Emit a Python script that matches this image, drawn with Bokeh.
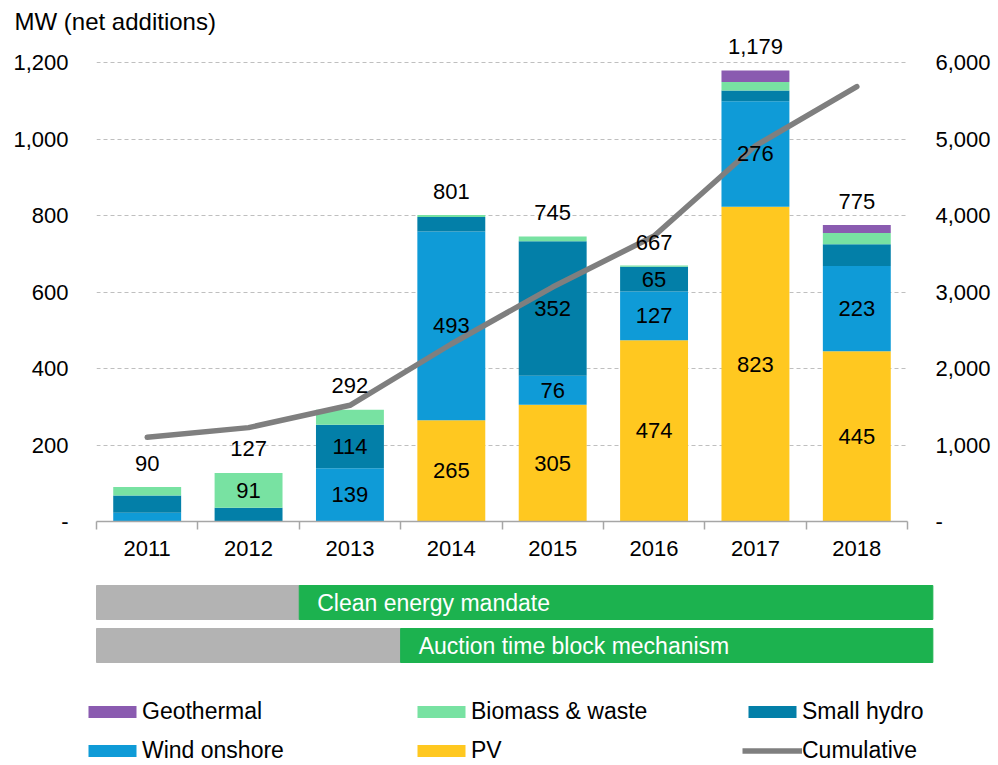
from bokeh.plotting import figure
from bokeh.models import (ColumnDataSource, Range1d, LinearAxis, FixedTicker, Legend,
                          LegendItem, NumeralTickFormatter)
from bokeh.layouts import column
from bokeh.embed import file_html
from bokeh.resources import INLINE
from bokeh.core.properties import value

# ---------------- data ----------------
years = [2011, 2012, 2013, 2014, 2015, 2016, 2017, 2018]
pv = [0, 0, 0, 265, 305, 474, 823, 445]
wind_onshore = [23, 0, 139, 493, 76, 127, 276, 223]
small_hydro = [45, 36, 114, 38, 352, 65, 28, 57]
biomass_waste = [22, 91, 39, 5, 12, 3, 22, 29]
geothermal = [0, 0, 0, 0, 0, 0, 30, 21]
totals = [90, 127, 292, 801, 745, 667, 1179, 775]
cumulative = [1100, 1227, 1519, 2320, 3065, 3732, 4911, 5686]

left_ticks = [0, 200, 400, 600, 800, 1000, 1200]
right_ticks = [0, 1000, 2000, 3000, 4000, 5000, 6000]

policies = ["Clean energy mandate", "Auction time block mechanism"]
policy_start_year = [2013, 2014]
timeline_end = 2018.75

series_names = ["PV", "Wind onshore", "Small hydro", "Biomass & waste", "Geothermal"]
series_values = [pv, wind_onshore, small_hydro, biomass_waste, geothermal]
series_colors = ["#FFC820", "#0F9BD7", "#037FA8", "#78E2A2", "#8A5BB0"]
LINE_COLOR = "#7F7F7F"
GREY = "#B3B3B3"
GREEN = "#1CB24F"
LABEL_MIN = 60

FONT = value("Liberation Sans")
FS = "22px"
FS_BIG = "23px"

# ---------------- layout constants ----------------
W = 998
BL, BR, BT, BB = 96, 91, 34, 48
FRAME_W = W - BL - BR          # 811
FRAME_H = 487
MAIN_H = BT + FRAME_H + BB
BOT_H = 764 - MAIN_H
PX_1200 = 459  # px from 0 to 1200
Y_TOP = 1200 * FRAME_H / PX_1200
X0, X1 = years[0] - 0.5, years[-1] + 0.5
PXY = FRAME_W / (X1 - X0)

# ---------------- main chart ----------------
p = figure(width=W, height=MAIN_H, x_range=Range1d(X0, X1), y_range=Range1d(0, Y_TOP),
           output_backend="svg", toolbar_location=None,
           min_border_left=BL, min_border_right=BR, min_border_top=BT, min_border_bottom=BB)
p.frame_align = False
p.outline_line_color = None
p.background_fill_color = "white"
p.border_fill_color = "white"

p.title.text = "MW  (net additions)"
p.title.text_font = "Liberation Sans"
p.title.text_font_size = "24px"
p.title.text_font_style = "normal"
p.title.text_color = "black"
p.title.align = "left"
p.title.offset = -82
p.title.standoff = 0

keys = ["pv", "wind", "hydro", "bio", "geo"]
src = ColumnDataSource(dict(x=years, **{k: v for k, v in zip(keys, series_values)}))
p.vbar_stack(keys, x="x", width=0.67, fill_color=series_colors, line_color=None, source=src)

p.extra_y_ranges = {"cum": Range1d(0, Y_TOP * 5)}
p.line(years, cumulative, y_range_name="cum", line_width=5.5, line_color=LINE_COLOR,
       line_cap="round", line_join="round")

# segment labels
lx, ly, lt = [], [], []
for i, yr in enumerate(years):
    base = 0
    for vals in series_values:
        v = vals[i]
        if v >= LABEL_MIN:
            lx.append(yr); ly.append(base + v / 2); lt.append(str(v))
        base += v
p.text(x=lx, y=ly, text=lt, text_align="center", text_baseline="middle",
       text_font=FONT, text_font_size=FS, text_color="black")

# totals
p.text(x=years, y=totals, text=[f"{t:,}" for t in totals], y_offset=-24,
       text_align="center", text_baseline="middle",
       text_font=FONT, text_font_size=FS, text_color="black")

# axes
xa = p.xaxis[0]
xa.ticker = FixedTicker(ticks=years, minor_ticks=[y - 0.5 for y in years] + [years[-1] + 0.5])
xa.major_label_overrides = {y: str(y) for y in years}
xa.major_tick_out = 0
xa.major_tick_in = 0
xa.minor_tick_out = 8
xa.minor_tick_in = 0
xa.minor_tick_line_color = "#A6A6A6"
xa.minor_tick_line_width = 1.5
xa.axis_line_color = "#A6A6A6"
xa.axis_line_width = 1.5
xa.major_label_standoff = 11
xa.major_label_text_font = "Liberation Sans"
xa.major_label_text_font_size = FS
xa.major_label_text_color = "black"

ya = p.yaxis[0]
ya.ticker = FixedTicker(ticks=left_ticks)
ya.formatter = NumeralTickFormatter(format="0,0")
ya.major_label_overrides = {0: "-"}
ya.axis_line_color = None
ya.major_tick_line_color = None
ya.minor_tick_line_color = None
ya.major_label_standoff = 22
ya.major_label_text_font = "Liberation Sans"
ya.major_label_text_font_size = FS
ya.major_label_text_color = "black"

ra = LinearAxis(y_range_name="cum", ticker=FixedTicker(ticks=right_ticks),
                formatter=NumeralTickFormatter(format="0,0"))
ra.major_label_overrides = {0: "-"}
ra.axis_line_color = None
ra.major_tick_line_color = None
ra.minor_tick_line_color = None
ra.major_label_standoff = 22
ra.major_label_text_font = "Liberation Sans"
ra.major_label_text_font_size = FS
ra.major_label_text_color = "black"
p.add_layout(ra, "right")

p.xgrid.visible = False
p.ygrid.ticker = FixedTicker(ticks=left_ticks[1:])
p.ygrid.grid_line_color = "#BFBFBF"
p.ygrid.grid_line_dash = "4 3"
p.ygrid.grid_line_width = 1

# ---------------- bottom: timeline + legend ----------------
bx0 = X0 - BL / PXY
bx1 = X0 + (W - BL) / PXY
ROW_PX = 43
ROW0_PX = 602 - MAIN_H
p2 = figure(width=W, height=BOT_H, x_range=Range1d(bx0, bx1),
            y_range=Range1d((BOT_H - ROW0_PX) / ROW_PX, -ROW0_PX / ROW_PX),
            output_backend="svg", toolbar_location=None, min_border=0,
            x_axis_type=None, y_axis_type=None)
p2.frame_align = False
p2.outline_line_color = None
p2.grid.visible = False

rows = list(range(len(policies)))
starts = [s - 0.5 for s in policy_start_year]
bar_h = 34 / ROW_PX
p2.hbar(y=rows, left=[X0] * len(rows), right=starts, height=bar_h, color=GREY)
p2.hbar(y=rows, left=starts, right=[timeline_end] * len(rows), height=bar_h, color=GREEN)
p2.text(x=starts, y=rows, text=policies, x_offset=18, text_align="left", text_baseline="middle",
        text_font=FONT, text_font_size=FS_BIG, text_color="white")

# legend proxy renderers (zero-size, off-range; they only supply legend swatches)
off_x = bx0 - 50
off_y = 500
lr = {}
for name, col in zip(series_names, series_colors):
    lr[name] = p2.vbar(x=[off_x], top=[off_y], bottom=[off_y], width=0.5,
                       fill_color=col, line_color=None)
lr["Cumulative"] = p2.line(x=[off_x], y=[off_y], line_width=5.5, line_color=LINE_COLOR)

columns = [["Geothermal", "Wind onshore"], ["Biomass & waste", "PV"], ["Small hydro", "Cumulative"]]
col_x = [82, 411, 742]
for names, cx in zip(columns, col_x):
    leg = Legend(items=[LegendItem(label=n, renderers=[lr[n]]) for n in names],
                 location=(cx, 0), orientation="vertical",
                 glyph_width=60, glyph_height=15, label_standoff=0, spacing=12,
                 padding=0, margin=0, border_line_color=None, background_fill_alpha=0,
                 label_text_font="Liberation Sans", label_text_font_size=FS_BIG,
                 label_text_color="black")
    p2.add_layout(leg)

layout = column(p, p2, spacing=0)
open("out.html", "w").write(file_html(layout, INLINE))
